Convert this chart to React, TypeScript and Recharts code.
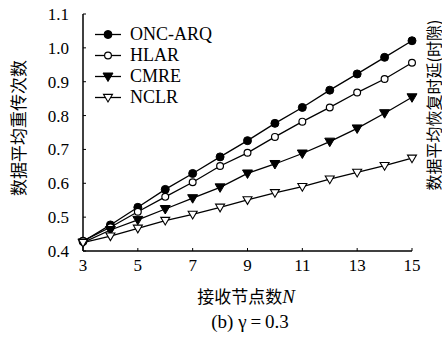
import React from "react";
import { LineChart, Line, XAxis, YAxis, Legend } from "recharts";

const nodes = [3, 4, 5, 6, 7, 8, 9, 10, 11, 12, 13, 14, 15];
const oncArq = [0.428, 0.477, 0.529, 0.582, 0.629, 0.678, 0.726, 0.777, 0.824, 0.875, 0.923, 0.972, 1.021];
const hlar = [0.43, 0.47, 0.516, 0.56, 0.603, 0.651, 0.69, 0.737, 0.782, 0.824, 0.868, 0.908, 0.956];
const cmre = [0.425, 0.462, 0.492, 0.524, 0.556, 0.588, 0.629, 0.657, 0.688, 0.723, 0.762, 0.807, 0.854];
const nclr = [0.425, 0.444, 0.467, 0.49, 0.508, 0.529, 0.551, 0.572, 0.59, 0.612, 0.632, 0.652, 0.674];

const xTicks = [3, 5, 7, 9, 11, 13, 15];
const yTicks = [0.4, 0.5, 0.6, 0.7, 0.8, 0.9, 1.0, 1.1];

const data = nodes.map((n, i) => ({
  n,
  oncArq: oncArq[i],
  hlar: hlar[i],
  cmre: cmre[i],
  nclr: nclr[i],
}));

type Kind = "disc" | "circle" | "tri" | "openTri";

const series: { key: string; name: string; kind: Kind }[] = [
  { key: "oncArq", name: "ONC-ARQ", kind: "disc" },
  { key: "hlar", name: "HLAR", kind: "circle" },
  { key: "cmre", name: "CMRE", kind: "tri" },
  { key: "nclr", name: "NCLR", kind: "openTri" },
];

const serif = "'Liberation Serif', 'DejaVu Serif', serif";
const cjk = "'Noto Sans CJK SC', sans-serif";

function Marker({ cx, cy, kind }: { cx: number; cy: number; kind: Kind }) {
  if (cx == null || cy == null) return null;
  if (kind === "disc") return <circle cx={cx} cy={cy} r={4} fill="#000" stroke="#000" />;
  if (kind === "circle") return <circle cx={cx} cy={cy} r={3.4} fill="#fff" stroke="#000" strokeWidth={1.2} />;
  const s = kind === "tri" ? 5 : 4.5;
  const pts = `${cx - s},${cy - s * 0.7} ${cx + s},${cy - s * 0.7} ${cx},${cy + s}`;
  return kind === "tri" ? (
    <polygon points={pts} fill="#000" stroke="#000" />
  ) : (
    <polygon points={pts} fill="#fff" stroke="#000" strokeWidth={1.1} />
  );
}

function LegendBox() {
  return (
    <div style={{ fontFamily: serif, fontSize: 18, lineHeight: "21px", color: "#000" }}>
      {series.map((s) => (
        <div key={s.key} style={{ display: "flex", alignItems: "center", height: 21 }}>
          <svg width={35} height={21}>
            <line x1={3} y1={10.5} x2={29} y2={10.5} stroke="#000" strokeWidth={1.3} />
            <Marker cx={16} cy={10.5} kind={s.kind} />
          </svg>
          <span style={{ marginLeft: 3 }}>{s.name}</span>
        </div>
      ))}
    </div>
  );
}

export default function App() {
  return (
    <div style={{ position: "absolute", left: 0, top: 0, width: 442, height: 338, background: "#fff", overflow: "hidden" }}>
      <LineChart width={442} height={338} data={data} margin={{ top: 14, right: 30, left: 0, bottom: 57 }}>
        <XAxis
          dataKey="n"
          type="number"
          domain={[3, 15]}
          ticks={xTicks}
          height={30}
          axisLine={{ stroke: "#000", strokeWidth: 1.5 }}
          tickLine={{ stroke: "#000" }}
          tickSize={-3}
          tickMargin={11}
          tick={{ fill: "#000", fontFamily: serif, fontSize: 17 }}
        />
        <XAxis xAxisId="top" orientation="top" type="number" domain={[3, 15]} height={0} tick={false} tickLine={false} axisLine={{ stroke: "#000", strokeWidth: 1.5 }} />
        <YAxis
          type="number"
          domain={[0.4, 1.1]}
          ticks={yTicks}
          width={83}
          axisLine={{ stroke: "#000", strokeWidth: 1.5 }}
          tickLine={{ stroke: "#000" }}
          tickSize={-3}
          tickMargin={17}
          tickFormatter={(v: number) => v.toFixed(1)}
          tick={{ fill: "#000", fontFamily: serif, fontSize: 17 }}
        />
        <YAxis yAxisId="right" orientation="right" domain={[0.4, 1.1]} width={0} tick={false} tickLine={false} axisLine={{ stroke: "#000", strokeWidth: 1.5 }} />
        {/* centred/middle keeps the legend from reserving space; position set below */}
        <Legend
          layout="vertical"
          verticalAlign="middle"
          align="center"
          content={() => <LegendBox />}
          wrapperStyle={{ left: 92, top: 24, width: "auto", height: "auto" }}
        />
        {series.map((s) => (
          <Line
            key={s.key}
            dataKey={s.key}
            name={s.name}
            stroke="#000"
            strokeWidth={1.3}
            isAnimationActive={false}
            dot={(p: any) => <Marker key={`${s.key}-${p.index}`} cx={p.cx} cy={p.cy} kind={s.kind} />}
            activeDot={false}
          />
        ))}
      </LineChart>
      <div
        style={{
          position: "absolute",
          left: 17,
          top: 128,
          transform: "translate(-50%, -50%) rotate(-90deg)",
          whiteSpace: "nowrap",
          fontFamily: cjk,
          fontSize: 17,
          lineHeight: 1,
        }}
      >
        数据平均重传次数
      </div>
      <div
        style={{
          position: "absolute",
          left: 433,
          top: 105,
          transform: "translate(-50%, -50%) rotate(-90deg)",
          whiteSpace: "nowrap",
          fontFamily: cjk,
          fontSize: 16,
          lineHeight: 1,
        }}
      >
        数据平均恢复时延(时隙)
      </div>
      <div
        style={{
          position: "absolute",
          left: 246,
          top: 295,
          transform: "translate(-50%, -50%)",
          whiteSpace: "nowrap",
          fontFamily: cjk,
          fontSize: 17,
        }}
      >
        接收节点数<span style={{ fontFamily: serif, fontStyle: "italic", fontSize: 19 }}>N</span>
      </div>
      <div
        style={{
          position: "absolute",
          left: 250,
          top: 322,
          transform: "translate(-50%, -50%)",
          whiteSpace: "nowrap",
          fontFamily: serif,
          fontSize: 19,
        }}
      >
        (b) γ{"\u2009"}={"\u2009"}0.3
      </div>
    </div>
  );
}
